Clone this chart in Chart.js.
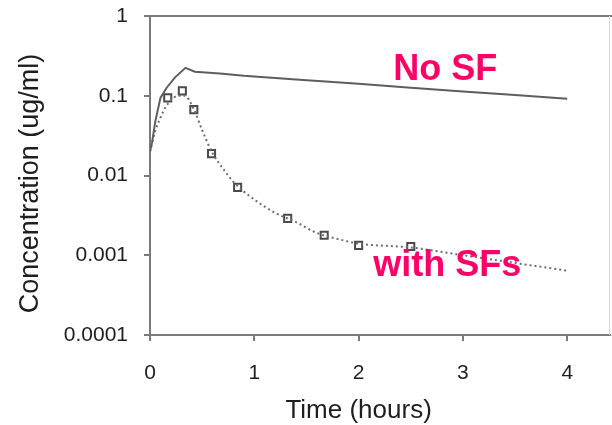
<!DOCTYPE html>
<html>
<head>
<meta charset="utf-8">
<script src="https://cdn.jsdelivr.net/npm/chart.js@4"></script>
<style>
  html, body { margin: 0; padding: 0; background: #fff; }
  #wrap { width: 612px; height: 425px; position: relative; }
</style>
</head>
<body>
<div id="wrap"><canvas id="myChart"></canvas></div>
<script>
// model curve without SF (solid)
const noSfTime = [0, 0.02, 0.05, 0.1, 0.16, 0.24, 0.34, 0.43, 0.67, 0.9, 1.4, 2.0, 2.5, 3.0, 3.5, 4.0];
const noSfConc = [0.02, 0.026, 0.047, 0.094, 0.126, 0.17, 0.224, 0.2, 0.19, 0.178, 0.16, 0.141, 0.126, 0.113, 0.102, 0.092];

// model curve with SFs (dotted)
const sfTime = [0, 0.05, 0.1, 0.15, 0.2, 0.27, 0.33, 0.42, 0.5, 0.6, 0.7, 0.8, 1.0, 1.2, 1.4, 1.6, 1.8, 2.0, 2.5, 3.0, 3.5, 4.0];
const sfConc = [0.02, 0.036, 0.053, 0.072, 0.088, 0.1, 0.1, 0.068, 0.037, 0.019, 0.0122, 0.0083, 0.005, 0.0034, 0.0026, 0.0019, 0.0016, 0.0014, 0.00125, 0.001, 0.0008, 0.00064];

// measured points (squares)
const obsTime = [0.17, 0.31, 0.42, 0.59, 0.84, 1.32, 1.67, 2.0, 2.5];
const obsConc = [0.094, 0.115, 0.067, 0.0188, 0.0071, 0.0029, 0.00178, 0.00133, 0.00129];

const yTicks = [1, 0.1, 0.01, 0.001, 0.0001];
const xTicks = [0, 1, 2, 3, 4];

const FONT = '"Liberation Sans", Arial, sans-serif';
const AXIS = '#7a7a7a';
const TEXT = '#1e1e1e';
const PINK = 'rgb(255, 0, 102)';

const toPts = (xs, ys) => xs.map((x, i) => ({ x: x, y: ys[i] }));

// frame, axis titles and the two pink labels
const decorPlugin = {
    id: 'decor',
    afterDraw(chart) {
        const { ctx, chartArea } = chart;
        const xs = chart.scales.x, ys = chart.scales.y;
        ctx.save();
        // top border
        ctx.strokeStyle = AXIS;
        ctx.lineWidth = 2;
        ctx.beginPath();
        ctx.moveTo(chartArea.left, chartArea.top);
        ctx.lineTo(chart.width, chartArea.top);
        ctx.stroke();
        // faint right border
        ctx.strokeStyle = '#d9d9d9';
        ctx.lineWidth = 1;
        ctx.beginPath();
        ctx.moveTo(chartArea.right - 0.5, chartArea.top);
        ctx.lineTo(chartArea.right - 0.5, chartArea.bottom);
        ctx.stroke();

        // x axis title, centred on the 0..4 range
        ctx.fillStyle = TEXT;
        ctx.font = '26px ' + FONT;
        ctx.textAlign = 'center';
        ctx.textBaseline = 'alphabetic';
        ctx.fillText('Time (hours)', xs.getPixelForValue(2), 418);

        // y axis title
        ctx.save();
        ctx.translate(31, (chartArea.top + chartArea.bottom) / 2 + 8);
        ctx.rotate(-Math.PI / 2);
        ctx.textBaseline = 'middle';
        ctx.font = '27px ' + FONT;
        ctx.fillText('Concentration (ug/ml)', 0, 0);
        ctx.restore();

        // labels
        ctx.fillStyle = PINK;
        ctx.font = 'bold 36px ' + FONT;
        ctx.fillText('No SF', xs.getPixelForValue(2.83), ys.getPixelForValue(0.158));
        ctx.fillText('with SFs', xs.getPixelForValue(2.85), ys.getPixelForValue(0.00055));
        ctx.restore();
    }
};

const ctx = document.getElementById('myChart').getContext('2d');
new Chart(ctx, {
    type: 'line',
    data: {
        datasets: [
            {
                label: 'No SF',
                data: toPts(noSfTime, noSfConc),
                borderColor: '#5e5e5e',
                borderWidth: 2,
                pointRadius: 0,
                tension: 0
            },
            {
                label: 'with SFs',
                data: toPts(sfTime, sfConc),
                borderColor: '#6e6e6e',
                borderWidth: 2,
                borderDash: [2, 3],
                pointRadius: 0,
                cubicInterpolationMode: 'monotone'
            },
            {
                label: 'observed',
                data: toPts(obsTime, obsConc),
                showLine: false,
                pointStyle: 'rect',
                pointRadius: 5,
                pointBorderWidth: 2,
                pointBorderColor: '#4a4a4a',
                pointBackgroundColor: '#fff'
            }
        ]
    },
    options: {
        responsive: true,
        maintainAspectRatio: false,
        animation: false,
        layout: { autoPadding: false, padding: { top: 16, right: 2, left: 0, bottom: 0 } },
        plugins: {
            legend: { display: false },
            tooltip: { enabled: false }
        },
        scales: {
            x: {
                type: 'linear',
                min: 0,
                max: 4.41,
                afterBuildTicks: s => { s.ticks = xTicks.map(v => ({ value: v })); },
                afterFit: s => { s.height = 90; s.paddingLeft = 0; s.paddingRight = 0; },
                border: { display: true, color: AXIS, width: 2 },
                grid: { display: true, drawOnChartArea: false, drawTicks: true, tickLength: 6, color: AXIS, lineWidth: 2 },
                ticks: {
                    padding: 20,
                    color: TEXT,
                    font: { family: FONT, size: 21 },
                    maxRotation: 0,
                    callback: v => String(v)
                }
            },
            y: {
                type: 'logarithmic',
                min: 0.0001,
                max: 1,
                afterBuildTicks: s => { s.ticks = yTicks.map(v => ({ value: v })); },
                afterFit: s => { s.width = 150; s.paddingTop = 0; s.paddingBottom = 0; },
                border: { display: true, color: AXIS, width: 2 },
                grid: { display: true, drawOnChartArea: false, drawTicks: true, tickLength: 6, color: AXIS, lineWidth: 2 },
                ticks: {
                    padding: 16,
                    color: TEXT,
                    font: { family: FONT, size: 21 },
                    callback: v => String(Number(Number(v).toPrecision(1)))
                }
            }
        }
    },
    plugins: [decorPlugin]
});
</script>
</body>
</html>
